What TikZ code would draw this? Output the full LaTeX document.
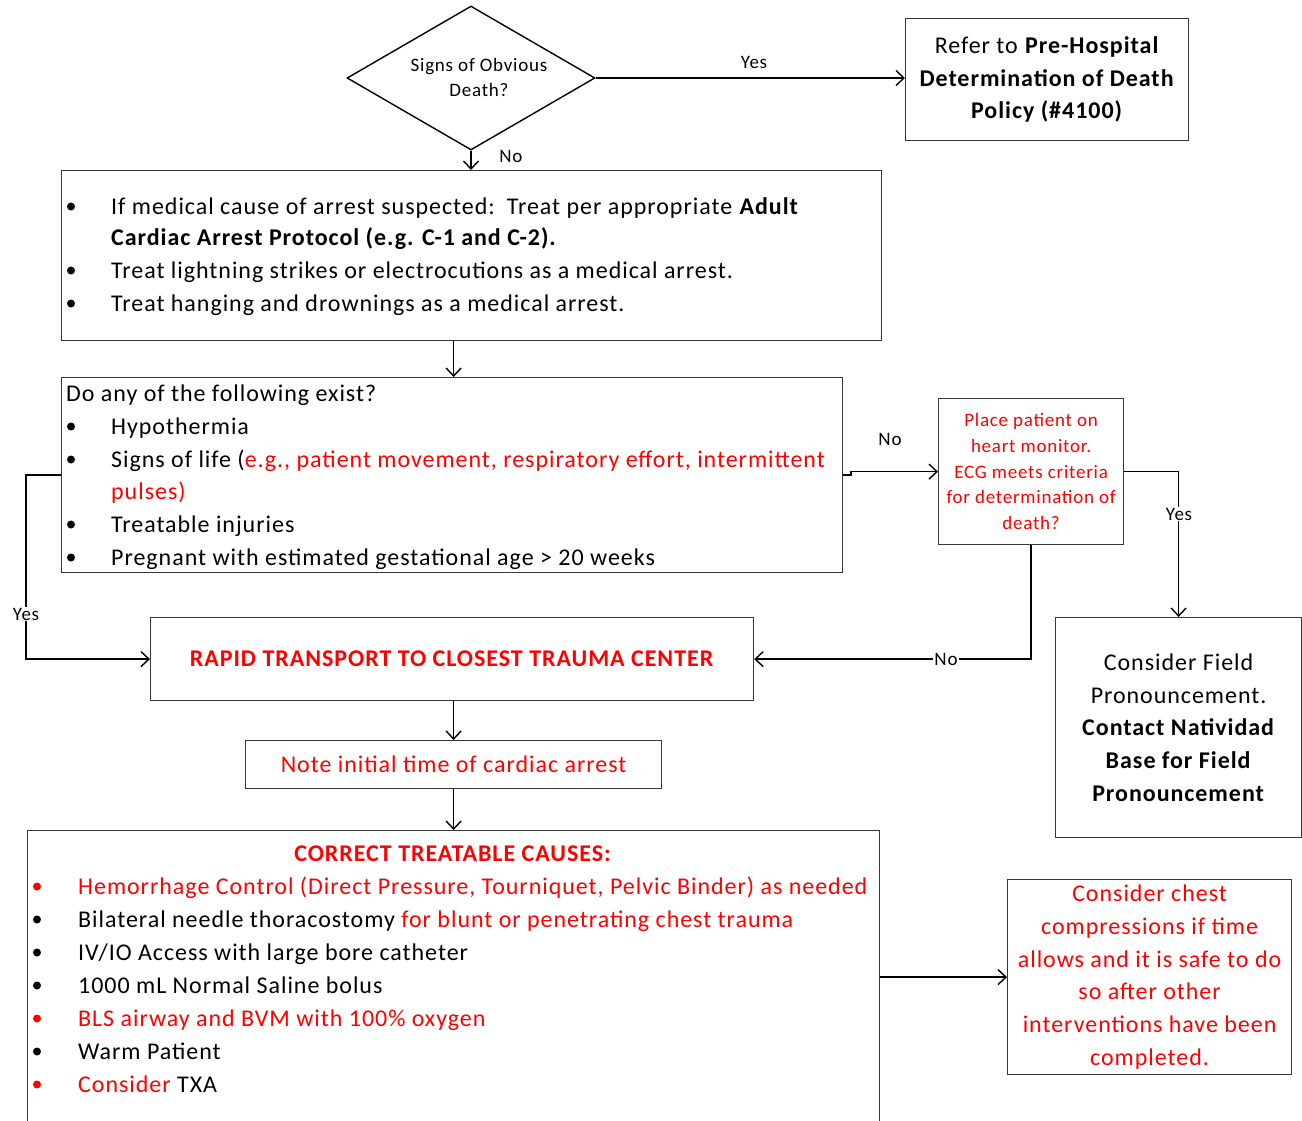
\documentclass[tikz,border=0pt]{standalone}
\usepackage{fontspec}
\setmainfont{Carlito}[LetterSpace=4]
\usetikzlibrary{shapes.geometric,arrows.meta}
\definecolor{rd}{RGB}{255,0,0}
\definecolor{bord}{RGB}{55,55,55}
\newcommand\txtA{\fontsize{24}{32.7}\selectfont}
\newcommand\txtS{\fontsize{19}{25.8}\selectfont}
\newcommand\rd[1]{\textcolor{rd}{#1}}
\tikzset{
  box/.style={draw=bord, line width=1.2pt, rectangle, inner sep=0pt, anchor=north west, align=center, font=\txtA},
  arr/.style={draw=black, line width=1.6pt, -{Straight Barb[length=8pt,width=15pt,line width=1.4pt]}},
  ln/.style={anchor=base west, inner sep=0pt, font=\txtA},
  lbl/.style={font=\txtS, inner sep=1pt},
  lblw/.style={font=\txtS, inner sep=1pt, fill=white},
  dot/.style={fill=black},
  rdot/.style={fill=rd},
}
\begin{document}
\begin{tikzpicture}[x=1pt,y=-1pt]
\useasboundingbox (0,0) rectangle (1302,1120);
\clip (0,0) rectangle (1302,1120);

% decision
\node[diamond, draw=black, line width=1.4pt, minimum width=248pt, minimum height=144pt, inner sep=0pt] (dm) at (471,78) {};
\node[font=\txtS, align=center, inner sep=0pt] (dmt) at (479,77.5) {Signs of Obvious\\Death?};

% boxes
\node[box, minimum width=283pt, minimum height=122pt] (refer) at (905,18)
  {Refer to \textbf{Pre-Hospital}\\\textbf{Determination of Death}\\\textbf{Policy (\#4100)}};
\node[box, minimum width=820pt, minimum height=170pt] (b1) at (61,170) {};
\node[box, minimum width=781pt, minimum height=195pt] (b2) at (61,377) {};
\node[box, minimum width=185pt, minimum height=146pt, font=\txtS, text=rd] (ecg) at (938,398)
  {Place patient on\\heart monitor.\\ECG meets criteria\\for determination of\\death?};
\node[box, minimum width=246pt, minimum height=220pt] (cfield) at (1055,617)
  {Consider Field\\Pronouncement.\\\textbf{Contact Natividad}\\\textbf{Base for Field}\\\textbf{Pronouncement}};
\node[box, minimum width=603pt, minimum height=83pt, text=rd] (rapid) at (150,617)
  {\textbf{RAPID TRANSPORT TO CLOSEST TRAUMA CENTER}};
\node[box, minimum width=416pt, minimum height=48pt, text=rd] (note) at (245,740)
  {Note initial time of cardiac arrest};
\node[box, minimum width=852pt, minimum height=330pt] (correct) at (27,830) {};
\node[box, minimum width=284pt, minimum height=195pt, text=rd] (chest) at (1007,879)
  {Consider chest\\compressions if time\\allows and it is safe to do\\so after other\\interventions have been\\completed.};

% first list
\fill[dot] (71,206.5) circle[radius=4pt];
\node[ln] (l11) at (111,214) {If medical cause of arrest suspected:\hspace{12pt}Treat per appropriate \textbf{Adult}};
\node[ln] (l12) at (111,245) {\textbf{Cardiac Arrest Protocol (e.g. C-1 and C-2).}};
\fill[dot] (71,270.5) circle[radius=4pt];
\node[ln] (l13) at (111,278) {Treat lightning strikes or electrocutions as a medical arrest.};
\fill[dot] (71,303.5) circle[radius=4pt];
\node[ln] (l14) at (111,311) {Treat hanging and drownings as a medical arrest.};

% second list
\node[ln] (l20) at (66,401) {Do any of the following exist?};
\fill[dot] (71,426.5) circle[radius=4pt];
\node[ln] (l21) at (111,434) {Hypothermia};
\fill[dot] (71,459.5) circle[radius=4pt];
\node[ln] (l22) at (111,467) {Signs of life (\rd{e.g., patient movement, respiratory effort, intermittent}};
\node[ln] (l23) at (111,499) {\rd{pulses)}};
\fill[dot] (71,524.5) circle[radius=4pt];
\node[ln] (l24) at (111,532) {Treatable injuries};
\fill[dot] (71,557.5) circle[radius=4pt];
\node[ln] (l25) at (111,565) {Pregnant with estimated gestational age > 20 weeks};

% treatable causes
\node[anchor=base, inner sep=0pt, font=\txtA, text=rd] (ct) at (453,861) {\textbf{CORRECT TREATABLE CAUSES:}};
\fill[rdot] (37,886.5) circle[radius=4pt];
\node[ln] (c1) at (78,894) {\rd{Hemorrhage Control (Direct Pressure, Tourniquet, Pelvic Binder) as needed}};
\fill[dot] (37,919.5) circle[radius=4pt];
\node[ln] (c2) at (78,927) {Bilateral needle thoracostomy \rd{for blunt or penetrating chest trauma}};
\fill[dot] (37,952.5) circle[radius=4pt];
\node[ln] (c3) at (78,960) {IV/IO Access with large bore catheter};
\fill[dot] (37,985.5) circle[radius=4pt];
\node[ln] (c4) at (78,993) {1000 mL Normal Saline bolus};
\fill[rdot] (37,1018.5) circle[radius=4pt];
\node[ln] (c5) at (78,1026) {\rd{BLS airway and BVM with 100\% oxygen}};
\fill[dot] (37,1051.5) circle[radius=4pt];
\node[ln] (c6) at (78,1059) {Warm Patient};
\fill[rdot] (37,1084.5) circle[radius=4pt];
\node[ln] (c7) at (78,1092) {\rd{Consider} TXA};

% connectors
\draw[arr] (dm.east) -- (dm.east -| refer.west);
\node[lbl] (yes1) at (754,62) {Yes};
\draw[arr] (dm.south) -- (dm.south |- b1.north);
\node[lbl] (no1) at (511,156) {No};
\draw[arr] (note.north |- b1.south) -- (note.north |- b2.north);
\draw[arr] (b2.west) -- ++(-35,0) |- (rapid.west);
\node[lblw] (yes2) at (26,614) {Yes};
\draw[arr] (b2.east) -- ++(8,0) |- (ecg.west);
\node[lbl] (no2) at (890,439) {No};
\draw[arr] (ecg.east) -| (cfield.north);
\node[lblw] (yes3) at (1179,514) {Yes};
\draw[arr] (ecg.south) |- (rapid.east);
\node[lblw] (no3) at (946,659) {No};
\draw[arr] (note.north |- rapid.south) -- (note.north);
\draw[arr] (note.south) -- (note.south |- correct.north);
\draw[arr] (chest.west -| correct.east) -- (chest.west);
\end{tikzpicture}
\end{document}
